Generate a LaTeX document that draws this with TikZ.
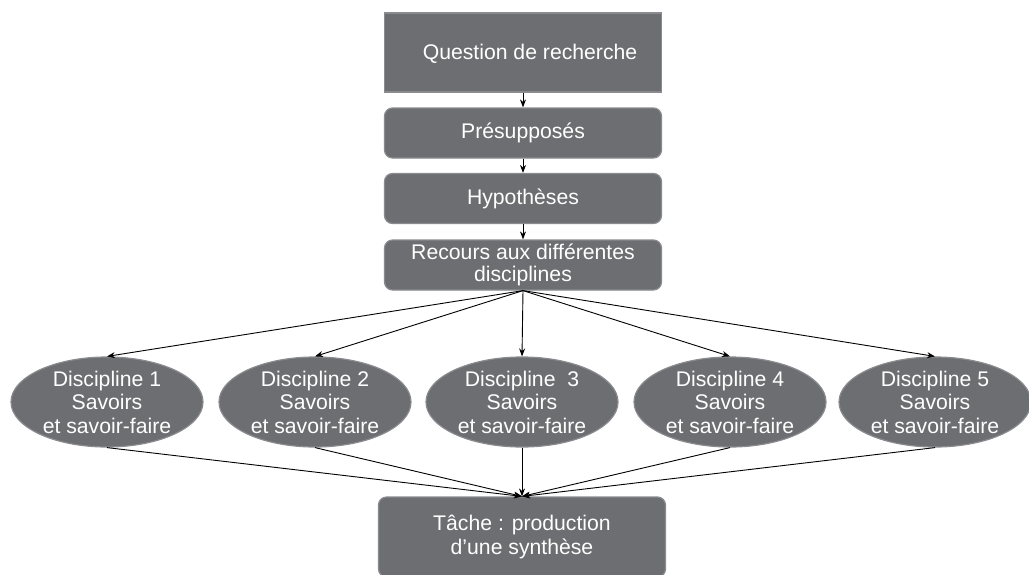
\documentclass[tikz,border=0pt]{standalone}
\usepackage{fontspec}
\setmainfont{Liberation Sans}
\usetikzlibrary{arrows.meta,shapes.geometric}
\definecolor{boxfill}{HTML}{6D6E71}
\definecolor{boxline}{HTML}{8A8B8E}
\begin{document}
\begin{tikzpicture}[x=1pt,y=-1pt,
  every node/.style={inner sep=0pt,text=white,font=\fontsize{21.2}{23.5}\selectfont,align=center},
  sqbox/.style={fill=boxfill,draw=boxline,line width=1.2pt,minimum width=277pt,minimum height=79pt},
  rbox/.style={fill=boxfill,draw=boxline,line width=1.2pt,rounded corners=8pt,minimum width=277pt,minimum height=50pt},
  disc/.style={ellipse,fill=boxfill,draw=boxline,line width=1.2pt,minimum width=192pt,minimum height=90pt},
  link/.style={draw=black,line width=0.9pt,-{Stealth[length=8pt,width=6pt]}}
]
\useasboundingbox (0,0) rectangle (1029,574);
\node[sqbox] (q) at (523,52.5) {};
\node at (530,54) {Question de recherche};
\node[rbox] (p) at (523,133) {Présupposés};
\node[rbox] (h) at (523,198.5) {Hypothèses};
\node[rbox,font=\fontsize{21.2}{21.5}\selectfont] (r) at (523,265) {Recours aux différentes\\disciplines};
\node[disc] (d1) at (107,402) {Discipline 1\\Savoirs\\et savoir-faire};
\node[disc] (d2) at (315,402) {Discipline 2\\Savoirs\\et savoir-faire};
\node[disc] (d3) at (522,402) {Discipline~ 3\\Savoirs\\et savoir-faire};
\node[disc] (d4) at (730,402) {Discipline 4\\Savoirs\\et savoir-faire};
\node[disc] (d5) at (935,402) {Discipline 5\\Savoirs\\et savoir-faire};
\node[rbox,minimum width=287pt,minimum height=80pt] (t) at (522,537) {Tâche : production\\d’une synthèse};
\draw[link] (q) -- (p);
\draw[link] (p) -- (h);
\draw[link] (h) -- (r);
\foreach \d in {d1,d2,d3,d4,d5}{
  \draw[link] (r.south) -- (\d.north);
  \draw[link] (\d.south) -- (t.north);
}
\end{tikzpicture}
\end{document}
